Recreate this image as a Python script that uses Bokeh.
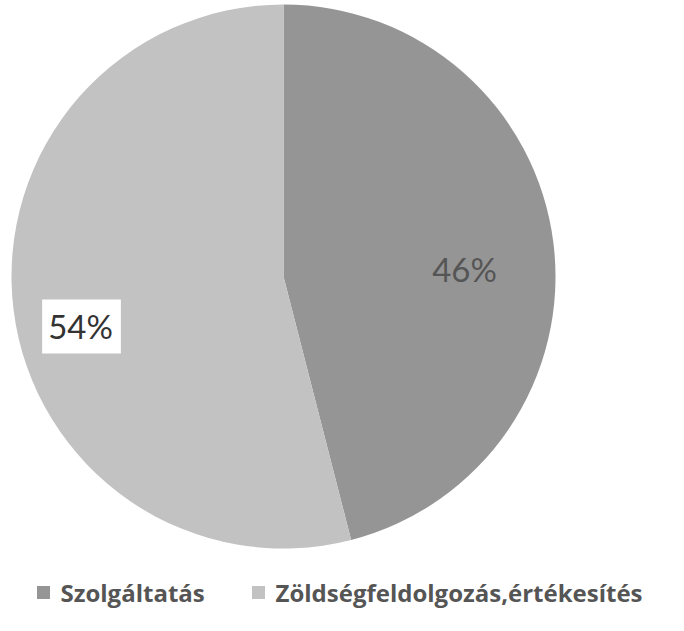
import math
from bokeh.plotting import figure
from bokeh.models import Range1d, ColumnDataSource
from bokeh.core.properties import value
from bokeh.embed import file_html
from bokeh.resources import INLINE

categories = ["Szolgáltatás", "Zöldségfeldolgozás,értékesítés"]
shares = [46, 54]
labels = ["46%", "54%"]
colors = ["#959595", "#c2c2c2"]

W, H = 668, 615
p = figure(width=W, height=H, output_backend="svg", toolbar_location=None,
           x_range=Range1d(0, W), y_range=Range1d(0, H),
           min_border=0, outline_line_color=None)
p.axis.visible = False
p.grid.visible = False
p.background_fill_color = "white"
p.border_fill_color = "white"

def Y(y_img):
    return H - y_img

cx, cy, r = 283, Y(276), 272
total = sum(shares)
starts, ends = [], []
acc = 0.0
for s in shares:
    a0 = math.pi / 2 - 2 * math.pi * acc / total
    acc += s
    a1 = math.pi / 2 - 2 * math.pi * acc / total
    starts.append(a0)
    ends.append(a1)

src = ColumnDataSource(dict(start=starts, end=ends, color=colors))
p.wedge(x=cx, y=cy, radius=r, start_angle="start", end_angle="end",
        direction="clock", fill_color="color", line_color=None, source=src)

# slice labels
p.text(x=[464], y=[Y(268)], text=[labels[0]], text_font=value("Lato"),
       text_font_size="33px", text_color="#555555",
       text_align="center", text_baseline="middle")
p.text(x=[81], y=[Y(326)], text=[labels[1]], text_font=value("Lato"),
       text_font_size="33px", text_color="#333333",
       text_align="center", text_baseline="middle",
       background_fill_color="white", padding=[6, 8, 6, 8])

# legend
leg_x = [43, 258]
leg_y = Y(592)
p.scatter(x=leg_x, y=[leg_y] * 2, marker="square", size=13,
          fill_color=colors, line_color=None)
p.text(x=[x + 17 for x in leg_x], y=[leg_y] * 2, text=categories,
       text_font=value("Open Sans"), text_font_size="24px", text_font_style="bold",
       text_color="#555555", text_align="left", text_baseline="middle")

open("out.html", "w").write(file_html(p, INLINE))
